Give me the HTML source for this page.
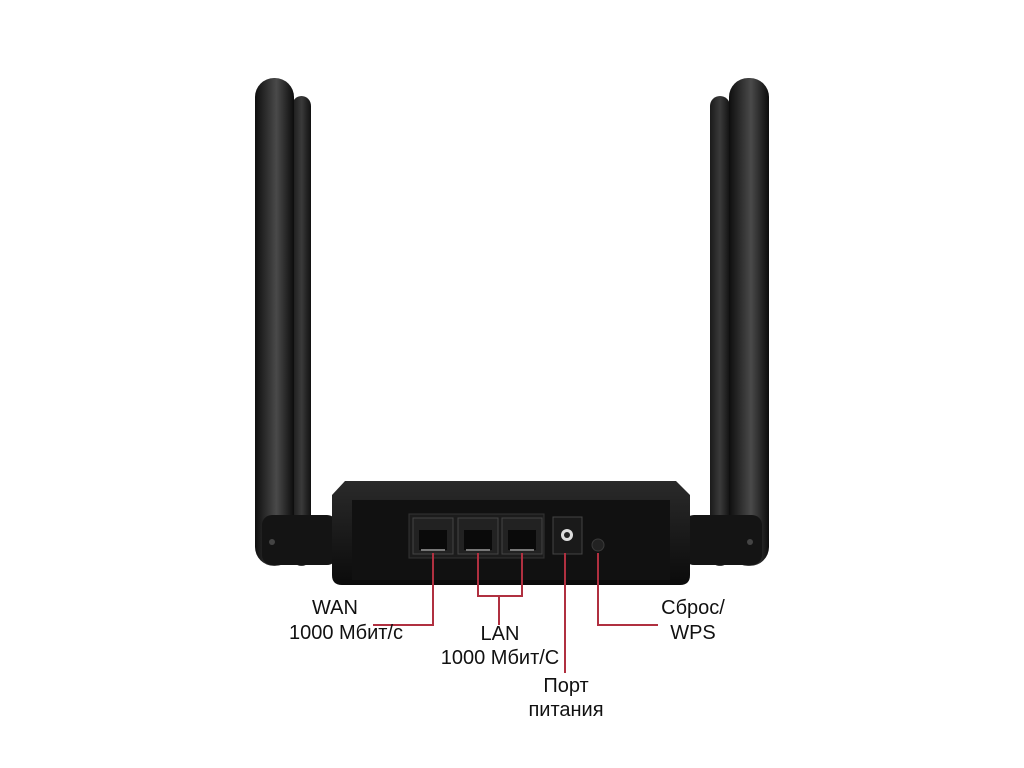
<!DOCTYPE html>
<html><head><meta charset="utf-8"><style>
html,body{margin:0;padding:0;background:#fff;}
svg{display:block}
text{font-family:"Liberation Sans","DejaVu Sans",sans-serif;font-size:20px;fill:#111;}
</style></head><body>
<svg width="1024" height="768" viewBox="0 0 1024 768" xmlns="http://www.w3.org/2000/svg">
<defs>
<linearGradient id="ant" x1="0" x2="1" y1="0" y2="0">
<stop offset="0" stop-color="#0e0e0e"/><stop offset="0.55" stop-color="#4a4a4a"/><stop offset="1" stop-color="#0c0c0c"/>
</linearGradient>
<linearGradient id="ant2" x1="0" x2="1">
<stop offset="0" stop-color="#1a1a1a"/><stop offset="0.5" stop-color="#3a3a3a"/><stop offset="1" stop-color="#111"/>
</linearGradient>
<linearGradient id="body" x1="0" x2="0" y1="0" y2="1">
<stop offset="0" stop-color="#2a2a2a"/><stop offset="1" stop-color="#0b0b0b"/>
</linearGradient>
</defs>
<rect x="292" y="96" width="19" height="470" rx="10" fill="url(#ant2)"/>
<rect x="255" y="78" width="39" height="488" rx="19" fill="url(#ant)"/>
<rect x="710" y="96" width="20" height="470" rx="10" fill="url(#ant2)"/>
<rect x="729" y="78" width="40" height="488" rx="19" fill="url(#ant)"/>
<rect x="262" y="515" width="75" height="50" rx="10" fill="#141414"/>
<rect x="684" y="515" width="78" height="50" rx="10" fill="#141414"/>
<circle cx="272" cy="542" r="3" fill="#444"/><circle cx="750" cy="542" r="3" fill="#444"/>
<path d="M345 481 H676 L690 495 V575 Q690 585 680 585 H342 Q332 585 332 575 V495 Z" fill="url(#body)"/>
<rect x="352" y="500" width="318" height="80" fill="#111"/>
<rect x="409" y="514" width="135" height="44" fill="#1c1c1c" stroke="#333"/>
<g fill="#222" stroke="#444">
<rect x="413" y="518" width="40" height="36"/><rect x="458" y="518" width="40" height="36"/><rect x="502" y="518" width="40" height="36"/>
</g>
<g fill="#0a0a0a">
<rect x="419" y="530" width="28" height="20"/><rect x="464" y="530" width="28" height="20"/><rect x="508" y="530" width="28" height="20"/>
</g>
<g fill="#777">
<rect x="421" y="549" width="24" height="2"/><rect x="466" y="549" width="24" height="2"/><rect x="510" y="549" width="24" height="2"/>
</g>
<rect x="553" y="517" width="29" height="37" fill="#1a1a1a" stroke="#444"/>
<circle cx="567" cy="535" r="6" fill="#ddd"/><circle cx="567" cy="535" r="3" fill="#222"/>
<circle cx="598" cy="545" r="6" fill="#222" stroke="#3a3a3a"/>
<g stroke="#b03040" stroke-width="2" fill="none">
<path d="M433 553 V625 H373"/>
<path d="M478 553 V596 H522 V553 M499 596 V625"/>
<path d="M565 553 V673"/>
<path d="M598 553 V625 H658"/>
</g>
<text x="335" y="614" text-anchor="middle">WAN</text>
<text x="346" y="639" text-anchor="middle">1000 Мбит/с</text>
<text x="500" y="640" text-anchor="middle">LAN</text>
<text x="500" y="664" text-anchor="middle">1000 Мбит/С</text>
<text x="566" y="692" text-anchor="middle">Порт</text>
<text x="566" y="716" text-anchor="middle">питания</text>
<text x="693" y="614" text-anchor="middle">Сброс/</text>
<text x="693" y="639" text-anchor="middle">WPS</text>
</svg>
</body></html>
